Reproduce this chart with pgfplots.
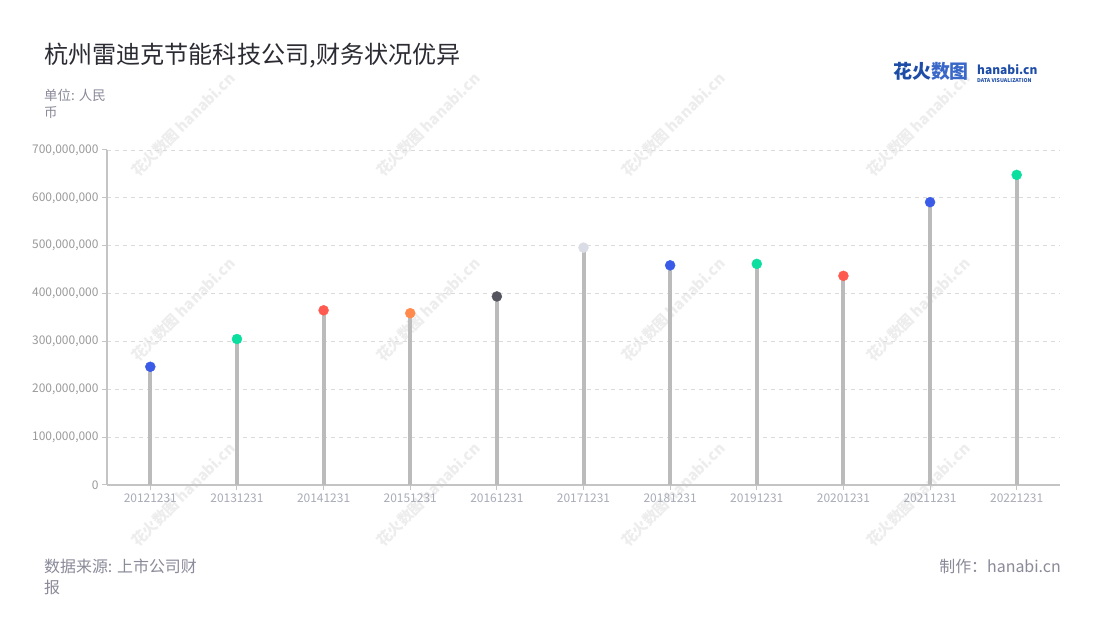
\documentclass[border=0pt]{standalone}
\usepackage{fontspec}
\setmainfont{Noto Sans CJK SC}
\usepackage{pgfplots}
\pgfplotsset{compat=1.18}

\definecolor{titlec}{HTML}{2B2B33}
\definecolor{subc}{HTML}{8A8A99}
\definecolor{ylab}{HTML}{9A9A9A}
\definecolor{xlab}{HTML}{A8ACB8}
\definecolor{axisgray}{HTML}{C4C4C4}
\definecolor{gridgray}{HTML}{DADADA}
\definecolor{stem}{HTML}{BBBBBB}
\definecolor{wm}{HTML}{EDEDED}
\definecolor{logoa}{HTML}{1E4DA8}
\definecolor{logob}{HTML}{3A68C8}
\definecolor{cblue}{HTML}{3A5BE8}
\definecolor{cgreen}{HTML}{0ADFA0}
\definecolor{cred}{HTML}{FF5A4F}
\definecolor{corange}{HTML}{FF8A4C}
\definecolor{cdark}{HTML}{55555F}
\definecolor{clight}{HTML}{DADDE6}

\begin{document}
\begin{tikzpicture}[x=1bp,y=1bp]
\path[use as bounding box, fill=white] (0,0) rectangle (1100,620);

% watermarks
\foreach \cx in {183,428,673,918}{
  \foreach \cy in {125,310,495}{
    \node[rotate=45, text=wm, font=\fontsize{15}{15}\selectfont\bfseries]
      at (\cx,{620-\cy}) {花火数图 hanabi.cn};
  }
}

\begin{axis}[
  at={(107bp,135bp)}, anchor=south west,
  scale only axis, width=953bp, height=335bp,
  xmin=-0.5, xmax=10.5, ymin=0, ymax=700000000,
  axis x line*=bottom, axis y line*=left,
  axis line style={draw=axisgray, line width=1.5bp},
  xtick={0,...,10},
  xticklabels={20121231,20131231,20141231,20151231,20161231,20171231,20181231,20191231,20201231,20211231,20221231},
  ytick={0,100000000,200000000,300000000,400000000,500000000,600000000,700000000},
  scaled y ticks=false,
  yticklabel={\pgfmathprintnumber[fixed,precision=0,1000 sep={,}]{\tick}},
  /pgf/number format/assume math mode=true,
  ymajorgrids,
  grid style={draw=gridgray, dash pattern=on 4bp off 4bp, line width=0.9bp},
  tick align=outside, major tick length=5bp,
  tick style={draw=axisgray, line width=1bp},
  xticklabel style={font=\fontsize{12}{14}\selectfont, text=xlab},
  yticklabel style={font=\fontsize{12}{14}\selectfont, text=ylab},
  clip=false,
]
\addplot[ycomb, draw=stem, line width=4bp, mark=none] coordinates {
  (0,247000000) (1,305000000) (2,365000000) (3,359000000) (4,394000000)
  (5,496000000) (6,459000000) (7,462000000) (8,437000000) (9,591000000)
  (10,648000000)
};
\addplot[scatter, only marks, mark=*, mark size=5bp,
  point meta=explicit symbolic,
  scatter/classes={
    b={mark=*, draw=cblue, fill=cblue},
    g={mark=*, draw=cgreen, fill=cgreen},
    r={mark=*, draw=cred, fill=cred},
    o={mark=*, draw=corange, fill=corange},
    d={mark=*, draw=cdark, fill=cdark},
    l={mark=*, draw=clight, fill=clight}}] coordinates {
  (0,247000000) [b]
  (1,305000000) [g]
  (2,365000000) [r]
  (3,359000000) [o]
  (4,394000000) [d]
  (5,496000000) [l]
  (6,459000000) [b]
  (7,462000000) [g]
  (8,437000000) [r]
  (9,591000000) [b]
  (10,648000000) [g]
};
\end{axis}

% title and notes
\node[anchor=base west, inner sep=0, text=titlec, font=\fontsize{24.2}{26}\selectfont] at (44,556) {杭州雷迪克节能科技公司,财务状况优异};
\node[anchor=base west, inner sep=0, text=subc, font=\fontsize{13.5}{15}\selectfont] at (44,519) {单位: 人民};
\node[anchor=base west, inner sep=0, text=subc, font=\fontsize{13.5}{15}\selectfont] at (44,502) {币};
\node[anchor=base west, inner sep=0, text=subc, font=\fontsize{16}{18}\selectfont] at (44,47) {数据来源: 上市公司财};
\node[anchor=base west, inner sep=0, text=subc, font=\fontsize{16}{18}\selectfont] at (44,26) {报};
\node[anchor=base east, inner sep=0, text=subc, font=\fontsize{16}{18}\selectfont] at (1061,47) {制作：hanabi.cn};

% logo
\node[anchor=base west, inner sep=0, font=\fontsize{19}{20}\selectfont\bfseries] at (893,541) {\textcolor{logoa}{花火}\textcolor{logob}{数图}};
\node[anchor=base west, inner sep=0, text=logoa, font=\fontsize{12}{13}\selectfont\bfseries] at (977,545) {hanabi.cn};
\node[anchor=base west, inner sep=0, text=logoa, font=\fontsize{5.2}{6}\selectfont\bfseries] at (977,537) {DATA VISUALIZATION};
\end{tikzpicture}
\end{document}
